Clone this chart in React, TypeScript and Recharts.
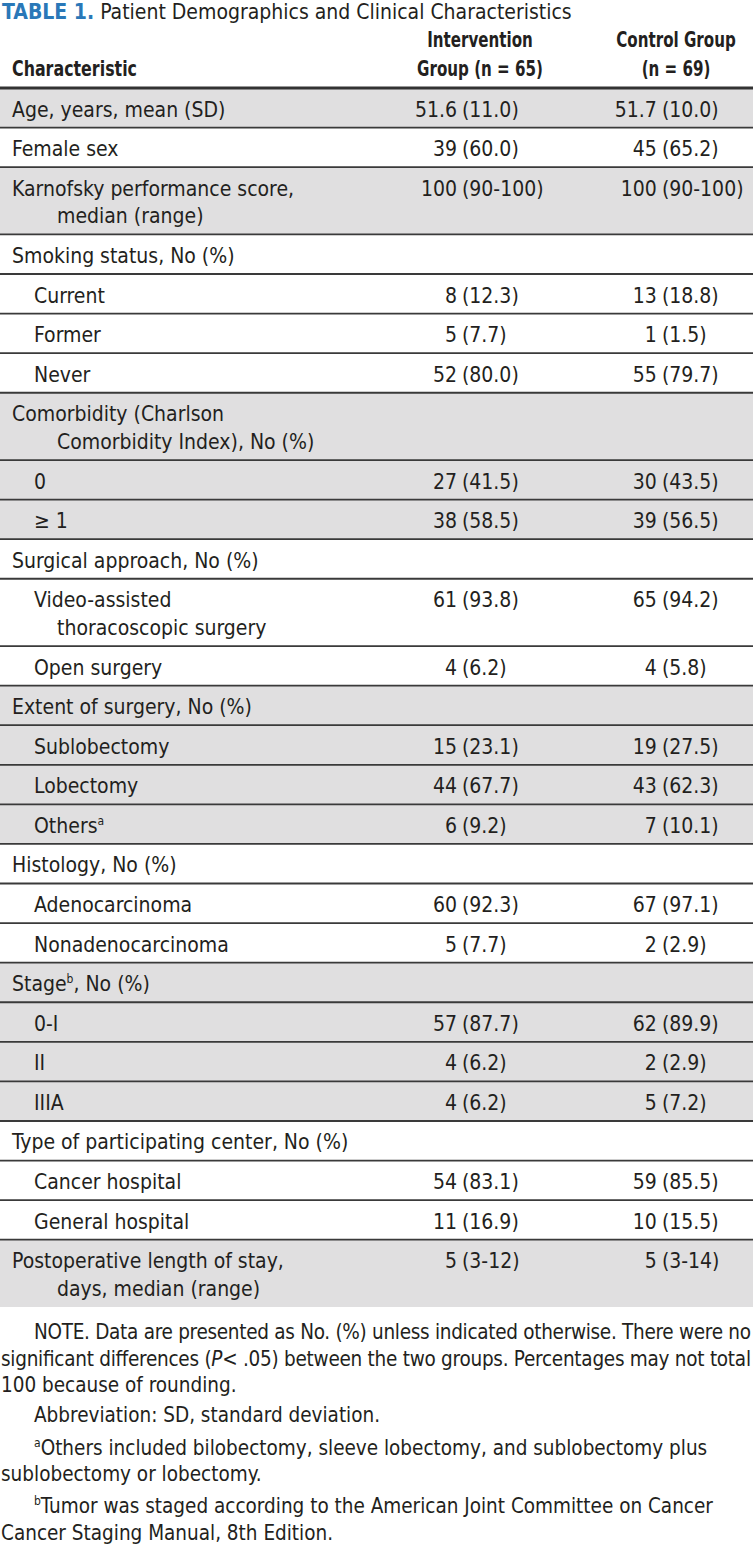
import { Bar, BarChart, Customized, ReferenceLine, XAxis, YAxis } from 'recharts'

// rows of the table, top to bottom; "^a" marks a superscript footnote letter
const rowLabels: string[][] = [
  ['Age, years, mean (SD)'],
  ['Female sex'],
  ['Karnofsky performance score,', 'median (range)'],
  ['Smoking status, No (%)'],
  ['Current'],
  ['Former'],
  ['Never'],
  ['Comorbidity (Charlson', 'Comorbidity Index), No (%)'],
  ['0'],
  ['≥ 1'],
  ['Surgical approach, No (%)'],
  ['Video-assisted', 'thoracoscopic surgery'],
  ['Open surgery'],
  ['Extent of surgery, No (%)'],
  ['Sublobectomy'],
  ['Lobectomy'],
  ['Others^a'],
  ['Histology, No (%)'],
  ['Adenocarcinoma'],
  ['Nonadenocarcinoma'],
  ['Stage^b, No (%)'],
  ['0-I'],
  ['II'],
  ['IIIA'],
  ['Type of participating center, No (%)'],
  ['Cancer hospital'],
  ['General hospital'],
  ['Postoperative length of stay,', 'days, median (range)'],
]

const interventionValues = [
  '51.6 (11.0)', '39 (60.0)', '100 (90-100)',
  '', '8 (12.3)', '5 (7.7)', '52 (80.0)',
  '', '27 (41.5)', '38 (58.5)',
  '', '61 (93.8)', '4 (6.2)',
  '', '15 (23.1)', '44 (67.7)', '6 (9.2)',
  '', '60 (92.3)', '5 (7.7)',
  '', '57 (87.7)', '4 (6.2)', '4 (6.2)',
  '', '54 (83.1)', '11 (16.9)',
  '5 (3-12)',
]

const controlValues = [
  '51.7 (10.0)', '45 (65.2)', '100 (90-100)',
  '', '13 (18.8)', '1 (1.5)', '55 (79.7)',
  '', '30 (43.5)', '39 (56.5)',
  '', '65 (94.2)', '4 (5.8)',
  '', '19 (27.5)', '43 (62.3)', '7 (10.1)',
  '', '67 (97.1)', '2 (2.9)',
  '', '62 (89.9)', '2 (2.9)', '5 (7.2)',
  '', '59 (85.5)', '10 (15.5)',
  '5 (3-14)',
]

// 1 = sub-item of a group
const rowIndent = [0, 0, 0, 0, 1, 1, 1, 0, 1, 1, 0, 1, 1, 0, 1, 1, 1, 0, 1, 1, 0, 1, 1, 1, 0, 1, 1, 0]
// grey band per group
const rowShaded = [1, 0, 1, 0, 0, 0, 0, 1, 1, 1, 0, 0, 0, 1, 1, 1, 1, 0, 0, 0, 1, 1, 1, 1, 0, 0, 0, 1]

const columnHeaders = ['Characteristic', 'Intervention|Group (n = 65)', 'Control Group|(n = 69)']

const FONT = "'DejaVu Sans Condensed', 'Liberation Sans Narrow', sans-serif"
const INK = '#231f20'
const GREY = '#e0dfe0'
const W = 753
const H = 1565
const FS = 21
const SUP = 12

const rowSpan = rowLabels.map((l) => (l.length > 1 ? 1.7 : 1))
const totalSpan = rowSpan.reduce((a, b) => a + b, 0)
const boundaries = rowSpan.slice(0, -1).map((_, i) => rowSpan.slice(0, i + 1).reduce((a, b) => a + b, 0))

const tableRow: Record<string, number | string> = { name: 'table' }
rowSpan.forEach((s, i) => {
  tableRow[`r${i}`] = s
})

const withSup = (s: string) =>
  s.split(/(\^\w)/).map((part, k) =>
    part.startsWith('^') ? (
      <tspan key={k} fontSize={SUP} dy={-8}>
        {part.slice(1)}
      </tspan>
    ) : (
      <tspan key={k} dy={k > 0 ? 8 : 0}>
        {part}
      </tspan>
    )
  )

// bold condensed header text, squeezed horizontally
const CondText = ({ x, y, anchor = 'start', sx = 0.8, children }: any) => (
  <g transform={`translate(${x},${y}) scale(${sx},1)`}>
    <text x={0} y={0} textAnchor={anchor} fontSize={21} fontWeight="bold">
      {children}
    </text>
  </g>
)

const ValueText = ({ x, y, value }: { x: number; y: number; value: string }) => {
  if (!value) return null
  const cut = value.indexOf(' (')
  return (
    <g fontFamily={FONT} fontSize={FS} fill={INK}>
      <text x={x - 5} y={y} textAnchor="end">
        {value.slice(0, cut)}
      </text>
      <text x={x} y={y}>
        {value.slice(cut + 1)}
      </text>
    </g>
  )
}

const RowShape = (props: any) => {
  const i: number = props.rowIndex
  const top = Math.min(props.y, props.y + props.height)
  const h = Math.abs(props.height)
  const x = props.x
  const w = props.width
  const base = top + 28.5
  const lines = rowLabels[i]
  return (
    <g>
      <rect x={x} y={top} width={w} height={h} fill={rowShaded[i] ? GREY : '#ffffff'} />
      {lines.map((l, k) => (
        <text
          key={k}
          x={x + (k > 0 ? 57 : rowIndent[i] ? 34 : 12)}
          y={base + k * 27.5}
          fontFamily={FONT}
          fontSize={FS}
          fill={INK}
        >
          {withSup(l)}
        </text>
      ))}
      <ValueText x={x + w * 0.6135} y={base} value={interventionValues[i]} />
      <ValueText x={x + w * 0.879} y={base} value={controlValues[i]} />
    </g>
  )
}

const Header = () => {
  const [c0, c1, c2] = columnHeaders
  return (
    <g fontFamily={FONT} fill={INK}>
      <text x={2} y={19} fontSize={21}>
        <tspan fontWeight="bold" fill="#2a78b8">
          TABLE 1.
        </tspan>
        <tspan dx={6}>Patient Demographics and Clinical Characteristics</tspan>
      </text>
      <CondText x={12} y={76} sx={0.84}>
        {c0}
      </CondText>
      {[c1, c2].map((c, j) =>
        c.split('|').map((line, k) => (
          <CondText key={`${j}-${k}`} x={j === 0 ? 480 : 676} y={47 + k * 28.5} anchor="middle">
            {line}
          </CondText>
        ))
      )}
    </g>
  )
}

const Notes = () => (
  <g fontFamily={FONT} fontSize={20.5} fill={INK}>
    <text x={34} y={1339} textLength={717} lengthAdjust="spacing">
      NOTE. Data are presented as No. (%) unless indicated otherwise. There were no
    </text>
    <text x={1} y={1366} textLength={750} lengthAdjust="spacing">
      significant differences (<tspan fontStyle="italic">P</tspan>{'< .05) between the two groups. Percentages may not total'}
    </text>
    <text x={1} y={1392}>100 because of rounding.</text>
    <text x={34} y={1422}>Abbreviation: SD, standard deviation.</text>
    <text x={34} y={1455}>
      <tspan fontSize={SUP} dy={-8}>a</tspan>
      <tspan dy={8}>Others included bilobectomy, sleeve lobectomy, and sublobectomy plus</tspan>
    </text>
    <text x={1} y={1481}>sublobectomy or lobectomy.</text>
    <text x={34} y={1513}>
      <tspan fontSize={SUP} dy={-8}>b</tspan>
      <tspan dy={8}>Tumor was staged according to the American Joint Committee on Cancer</tspan>
    </text>
    <text x={1} y={1540}>Cancer Staging Manual, 8th Edition.</text>
  </g>
)

export default function App() {
  return (
    <div style={{ width: W, height: H, background: '#fff' }}>
      <style>{'body{margin:0}'}</style>
      <BarChart
        width={W}
        height={H}
        data={[tableRow]}
        margin={{ top: 88, right: 0, bottom: H - 1307, left: 0 }}
        barCategoryGap={0}
        barGap={0}
      >
        <XAxis dataKey="name" hide />
        <YAxis type="number" domain={[0, totalSpan]} reversed hide allowDataOverflow />
        {rowSpan.map((_, i) => (
          <Bar
            key={i}
            dataKey={`r${i}`}
            stackId="rows"
            isAnimationActive={false}
            shape={(p: any) => <RowShape {...p} rowIndex={i} />}
          />
        ))}
        {boundaries.map((b) => (
          <ReferenceLine key={b} y={b} stroke="#3a3a3a" strokeWidth={1.8} ifOverflow="visible" />
        ))}
        <ReferenceLine y={0} stroke="#333" strokeWidth={2.8} ifOverflow="visible" />
        <Customized component={<Header />} />
        <Customized component={<Notes />} />
      </BarChart>
    </div>
  )
}
